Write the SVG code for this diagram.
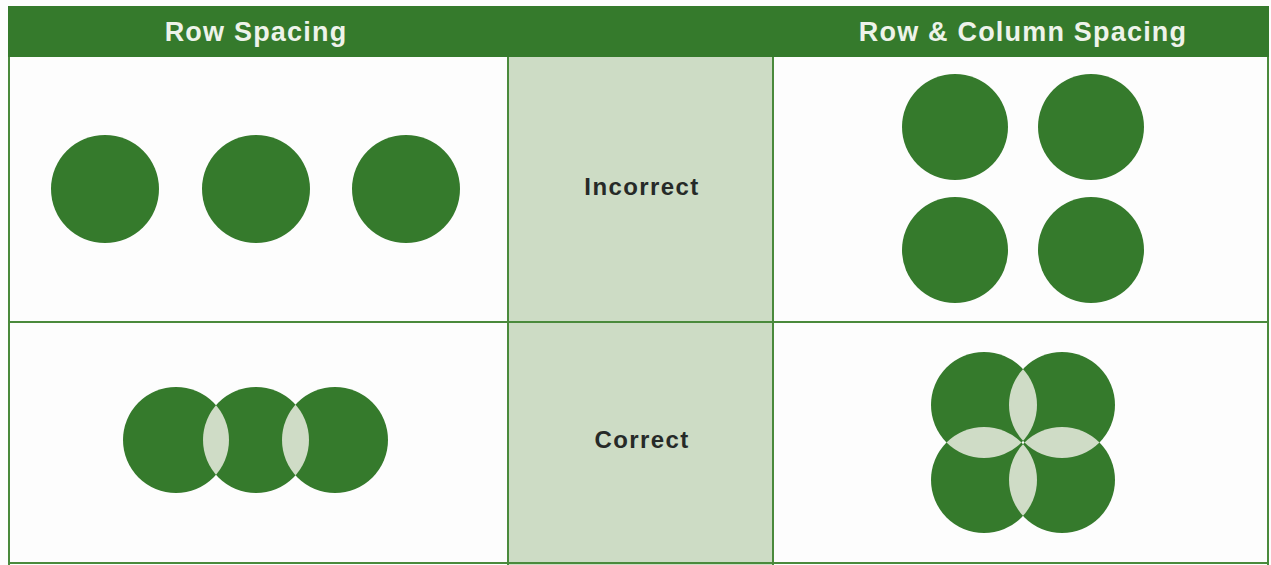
<svg xmlns="http://www.w3.org/2000/svg" width="1271" height="565" viewBox="0 0 1271 565">
<style>
.hdr{font-family:"Liberation Sans",Arial,sans-serif;font-weight:bold;font-size:27px;letter-spacing:1.2px;fill:#eef3ea;text-anchor:middle}
.lbl{font-family:"Liberation Sans",Arial,sans-serif;font-weight:bold;font-size:24px;letter-spacing:1.4px;fill:#262a28;text-anchor:middle}
.dot{fill:#357a2c}
.lens{fill:#cfdcc6}
.grid{stroke:#4a8a3c;stroke-width:2;fill:none}
</style>
<defs>
<clipPath id="cA"><circle cx="176" cy="440" r="53"/></clipPath>
<clipPath id="cB"><circle cx="256" cy="440" r="53"/></clipPath>
<clipPath id="qTL"><circle cx="984" cy="405" r="53"/></clipPath>
<clipPath id="qTR"><circle cx="1062" cy="405" r="53"/></clipPath>
<clipPath id="qBL"><circle cx="984" cy="480" r="53"/></clipPath>
</defs>
<rect width="1271" height="565" fill="#fdfdfd"/>
<g id="grid">
<rect x="508" y="57" width="265" height="508" fill="#cddcc5"/>
<line class="grid" x1="9" y1="57" x2="9" y2="565"/>
<line class="grid" x1="1268" y1="57" x2="1268" y2="565"/>
<line class="grid" x1="9" y1="322" x2="1268" y2="322"/>
<line class="grid" x1="508" y1="57" x2="508" y2="565"/>
<line class="grid" x1="773" y1="57" x2="773" y2="565"/>
<line class="grid" x1="9" y1="563" x2="1268" y2="563"/>
</g>
<g id="header">
<rect x="8" y="6" width="1261" height="51" fill="#357a2c"/>
<text class="hdr" x="256" y="41">Row Spacing</text>
<text class="hdr" x="1023" y="41">Row &amp; Column Spacing</text>
</g>
<g id="labels">
<text class="lbl" x="642" y="195">Incorrect</text>
<text class="lbl" x="642" y="448">Correct</text>
</g>
<g id="row-incorrect">
<circle class="dot" cx="105" cy="189" r="54"/>
<circle class="dot" cx="256" cy="189" r="54"/>
<circle class="dot" cx="406" cy="189" r="54"/>
</g>
<g id="grid-incorrect">
<circle class="dot" cx="955" cy="127" r="53"/>
<circle class="dot" cx="1091" cy="127" r="53"/>
<circle class="dot" cx="955" cy="250" r="53"/>
<circle class="dot" cx="1091" cy="250" r="53"/>
</g>
<g id="row-correct">
<circle class="dot" cx="176" cy="440" r="53"/>
<circle class="dot" cx="256" cy="440" r="53"/>
<circle class="dot" cx="335" cy="440" r="53"/>
<circle class="lens" cx="256" cy="440" r="53" clip-path="url(#cA)"/>
<circle class="lens" cx="335" cy="440" r="53" clip-path="url(#cB)"/>
</g>
<g id="grid-correct">
<circle class="dot" cx="984" cy="405" r="53"/>
<circle class="dot" cx="1062" cy="405" r="53"/>
<circle class="dot" cx="984" cy="480" r="53"/>
<circle class="dot" cx="1062" cy="480" r="53"/>
<circle class="lens" cx="1062" cy="405" r="53" clip-path="url(#qTL)"/>
<circle class="lens" cx="984" cy="480" r="53" clip-path="url(#qTL)"/>
<circle class="lens" cx="1062" cy="480" r="53" clip-path="url(#qTR)"/>
<circle class="lens" cx="1062" cy="480" r="53" clip-path="url(#qBL)"/>
</g>
</svg>
